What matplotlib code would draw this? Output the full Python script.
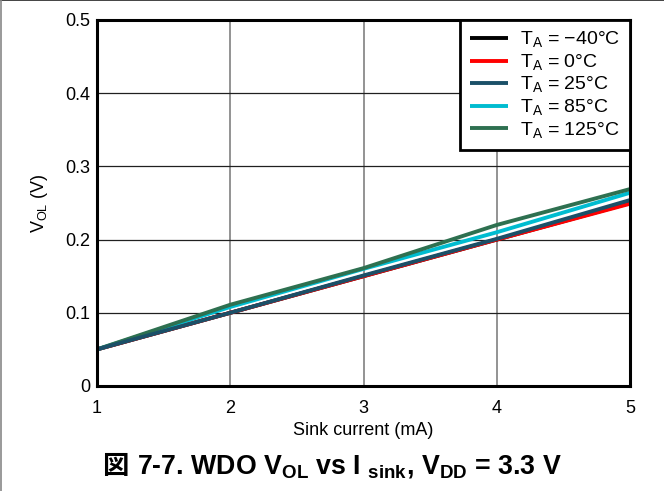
import numpy as np
import matplotlib
matplotlib.use("Agg")
import matplotlib.pyplot as plt
from matplotlib.lines import Line2D

plt.rcParams['font.family'] = ['Liberation Sans', 'Noto Sans CJK JP', 'DejaVu Sans']
plt.rcParams['mathtext.fontset'] = 'custom'
plt.rcParams['mathtext.rm'] = 'Liberation Sans'
plt.rcParams['mathtext.bf'] = 'Liberation Sans:bold'

# sink current (mA) and V_OL (V) per temperature
sink_ma = [1, 2, 3, 4, 5]
vol_m40 = [0.050, 0.100, 0.150, 0.200, 0.250]
vol_0 = [0.050, 0.100, 0.150, 0.200, 0.249]
vol_25 = [0.050, 0.100, 0.151, 0.201, 0.254]
vol_85 = [0.050, 0.108, 0.160, 0.210, 0.264]
vol_125 = [0.050, 0.111, 0.161, 0.220, 0.269]

labels = [r'T$_\mathrm{A}$ = −40°C', r'T$_\mathrm{A}$ = 0°C', r'T$_\mathrm{A}$ = 25°C',
          r'T$_\mathrm{A}$ = 85°C', r'T$_\mathrm{A}$ = 125°C']
colors = ['#000000', '#ff0000', '#1b5068', '#00bcd0', '#2e7050']

fig = plt.figure(figsize=(6.64, 4.91), dpi=100)
ax = fig.add_axes([97/664, 1 - 386/491, 533/664, 366/491])

vals = [vol_m40, vol_0, vol_25, vol_85, vol_125]
handles = [None] * 5
# 25C drawn last so it sits on top of -40C / 0C
for i in [0, 1, 3, 4, 2]:
    h, = ax.plot(sink_ma, vals[i], color=colors[i], lw=2.8, label=labels[i],
                 solid_capstyle='butt')
    handles[i] = h

ax.set_xlim(1, 5)
ax.set_ylim(0, 0.5)
ax.set_xticks([1, 2, 3, 4, 5])
ax.set_yticks([0, 0.1, 0.2, 0.3, 0.4, 0.5])
ax.set_yticklabels(['0', '0.1', '0.2', '0.3', '0.4', '0.5'])
ax.xaxis.grid(True, color='#808080', lw=1.2)
ax.yaxis.grid(True, color='#202020', lw=0.9)
ax.set_axisbelow(True)
ax.tick_params(length=0, labelsize=13)
ax.tick_params(axis='x', pad=10)
ax.tick_params(axis='y', pad=5)
for s in ax.spines.values():
    s.set_linewidth(2.2)
ax.set_xlabel('Sink current (mA)', fontsize=13, labelpad=4)
ax.set_ylabel(r'V$_\mathrm{OL}$ (V)', fontsize=13, labelpad=11)

leg = ax.legend(handles=handles, loc='upper right', fontsize=14, frameon=True,
                fancybox=False, edgecolor='black', framealpha=1,
                borderaxespad=0, handlelength=2.0, labelspacing=0.12,
                handletextpad=0.6, borderpad=0.5)
leg.get_frame().set_linewidth(2.0)

ty = 1 - 467/491
fig.text(102/664, ty, '図', ha='left', va='center', fontsize=19,
         fontweight='bold', family=['Noto Sans CJK JP'])
fig.text(137/664, ty,
         r'7-7. WDO V$_\mathbf{OL}$ vs I $_\mathbf{sink}$, V$_\mathbf{DD}$ = 3.3 V',
         ha='left', va='center', fontsize=19.3, fontweight='bold')

# page frame lines
fig.add_artist(Line2D([0, 1], [0.999, 0.999], transform=fig.transFigure, color='#222222', lw=1.2))
fig.add_artist(Line2D([0.001, 0.001], [0, 1], transform=fig.transFigure, color='#888888', lw=1.2))

fig.savefig('out.png', dpi=100)
